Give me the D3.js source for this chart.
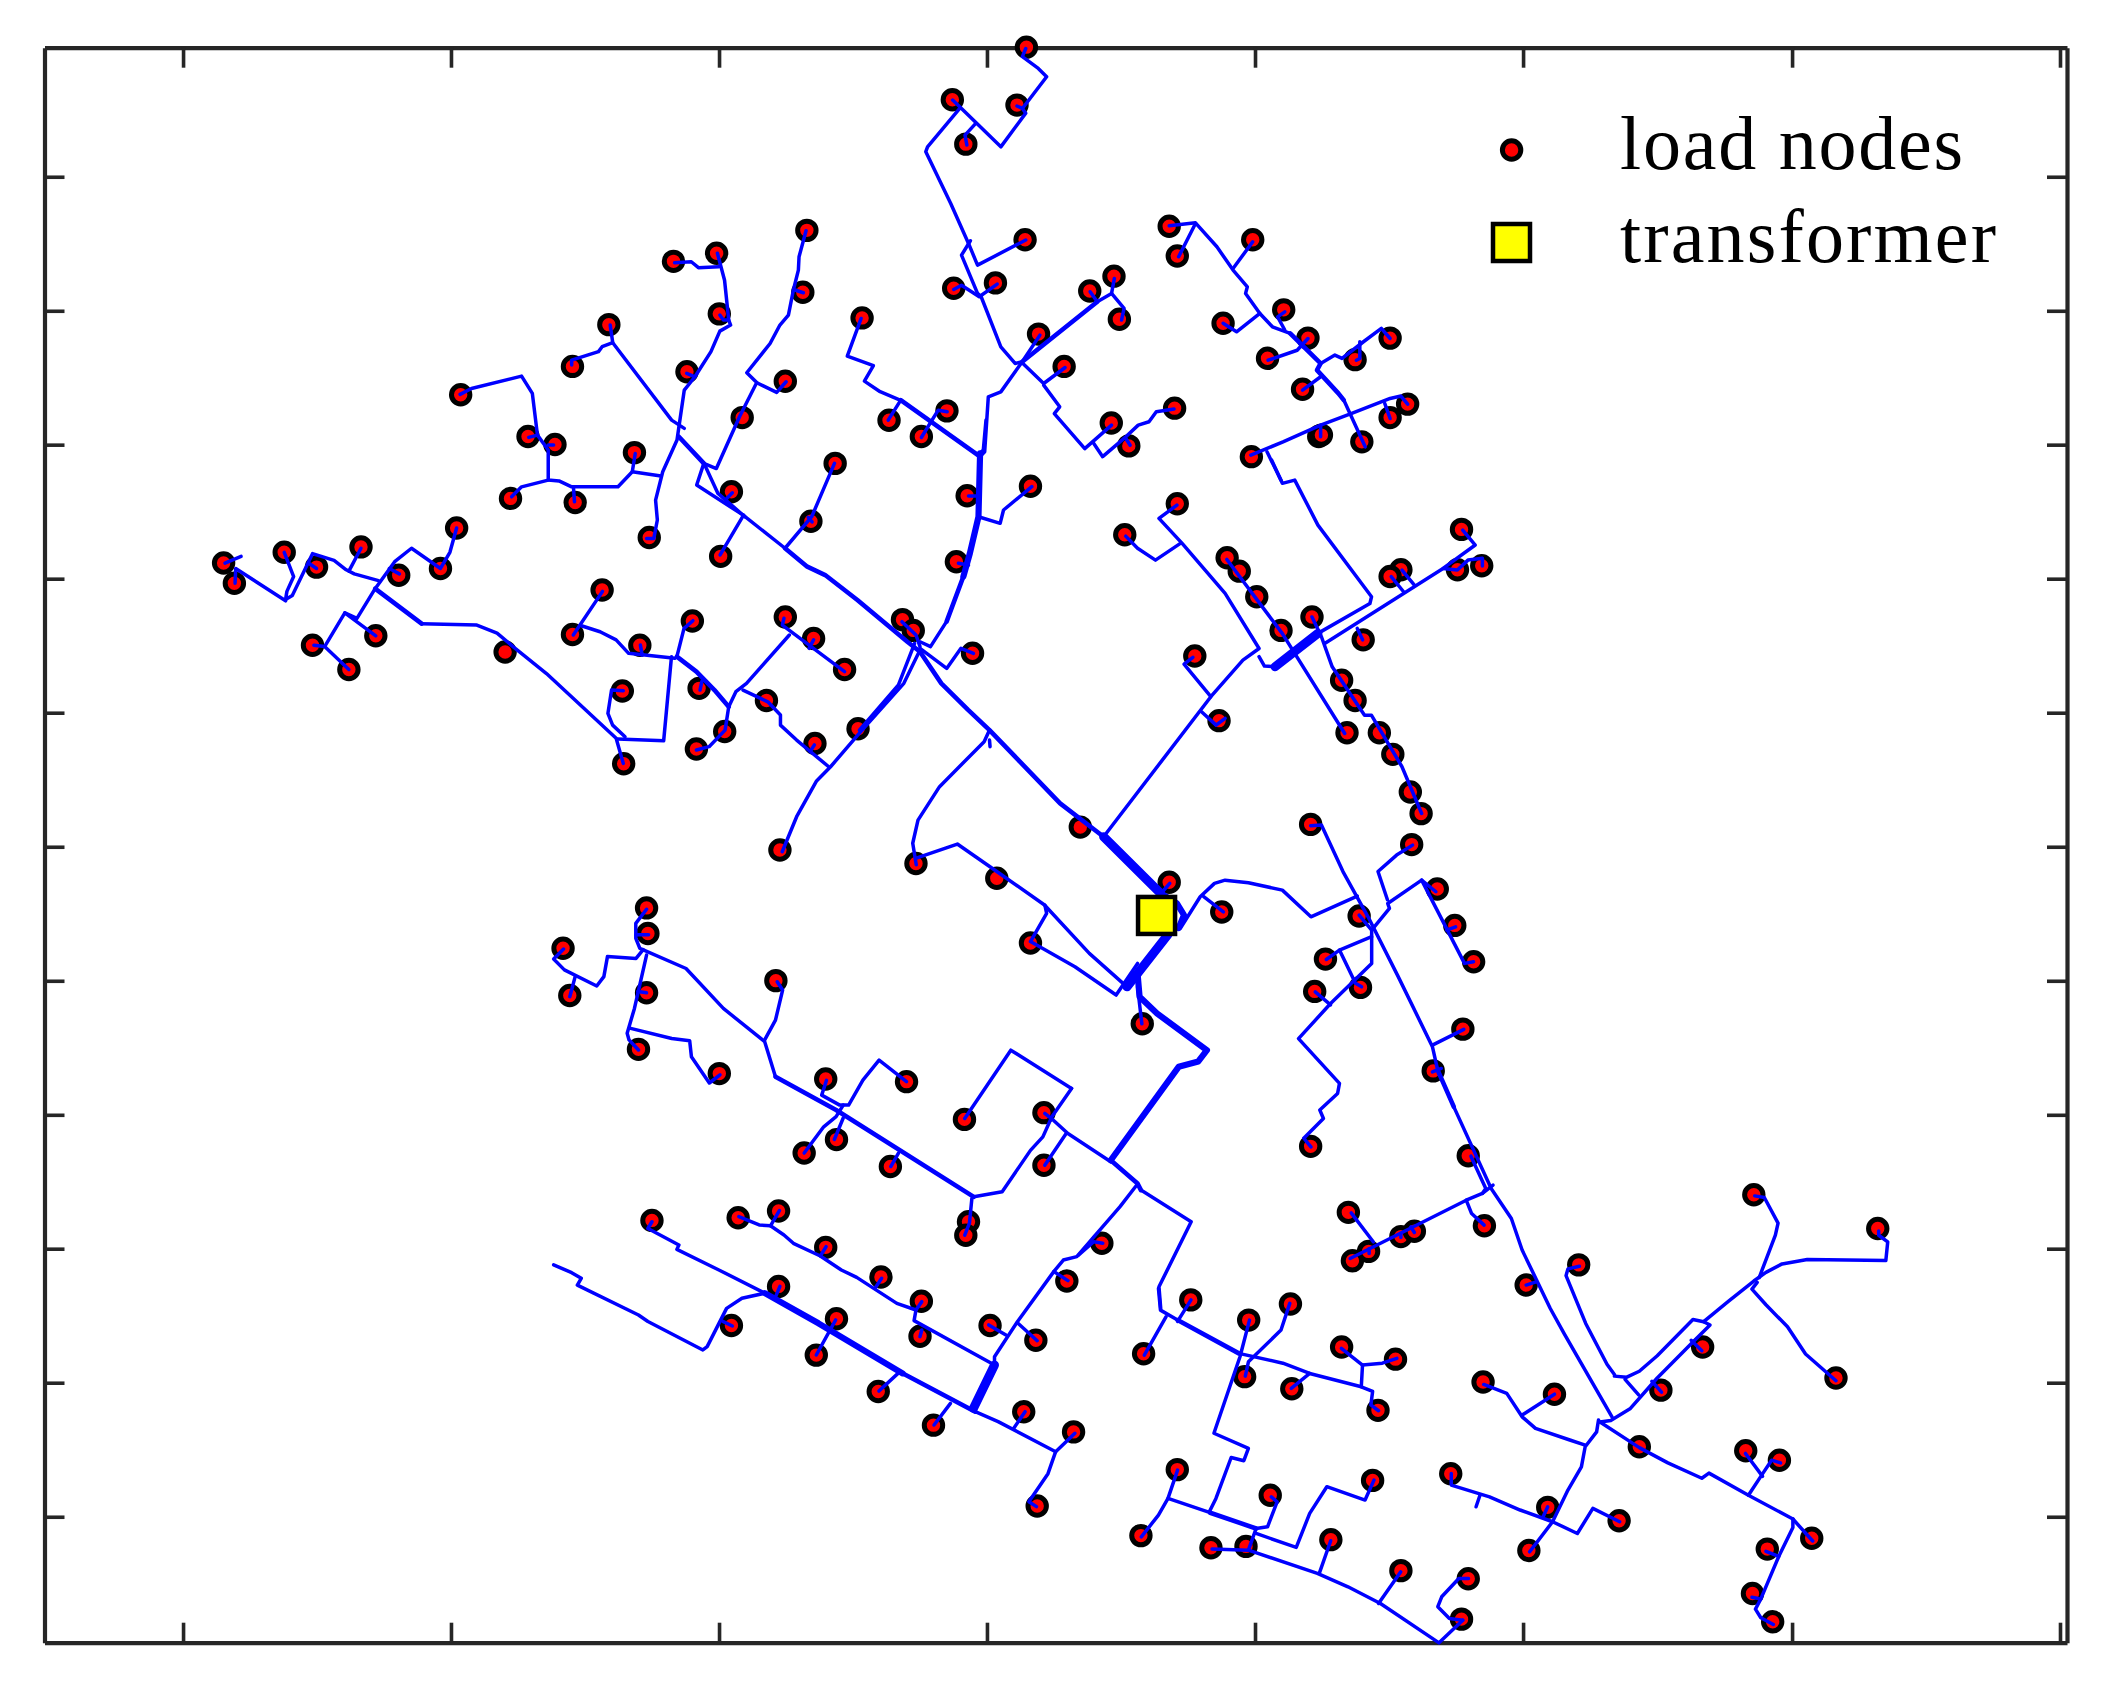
<!DOCTYPE html>
<html>
<head>
<meta charset="utf-8">
<script src="https://cdn.jsdelivr.net/npm/d3@7"></script>
<style>
  html, body { margin: 0; background: #fff; }
  svg { display: block; }
  text { font-family: "Liberation Serif", serif; fill: #000; }
</style>
</head>
<body>
<svg id="chart-svg"></svg>
<script>
const legendLabels = ["load nodes", "transformer"];
const xTicks = [135.9, 334.8, 533.8, 732.7, 931.7, 1130.7, 1330.4, 1529.3];
const yTicks = [131.2, 230.7, 330.1, 429.6, 529.1, 628.6, 728.1, 827.6, 927, 1026.5, 1126];
const transformer = [858.6, 679.6];

const loadNodes = [
  [762,35],[707,74],[755,78],[717,107],[761,178],[739,210],[708,214],[868,168],[874,190],[930,178],
  [809,216],[827,205],[831,237],[771,248],[790,272],[908,240],[953,230],[971,251],[941,266],[1006,267],
  [1032,251],[967,289],[1045,300],[1032,310],[979,324],[981,323],[1011,328],[929,339],[825,314],[838,331],[872,303],
  [640,236],[660,312],[684,324],[703,305],[718,368],[765,361],[710,417],[620,344],[602,387],[543,365],
  [535,413],[583,283],[551,310],[596,217],[599,171],[534,233],[532,188],[500,194],[510,276],[452,241],
  [425,272],[342,293],[392,324],[412,330],[471,336],[379,370],[427,373],[482,399],
  [166,418],[174,433],[211,410],[235,421],[268,406],[296,427],[327,422],[339,392],[232,479],[259,497],
  [279,472],[375,484],[447,438],[425,471],[475,479],[514,461],[462,513],[519,511],[463,567],[517,556],
  [538,543],[569,520],[583,458],[604,474],[627,497],[605,552],[637,541],[670,460],[678,468],[722,485],[579,631],
  [802,614],[680,641],[740,652],[868,655],[907,677],[765,700],[848,760],[835,397],[874,374],[911,414],
  [920,424],[933,443],[951,468],[974,458],[1012,475],[887,487],[905,535],[996,505],[1006,520],[1000,544],
  [1024,544],[1034,560],[1047,588],[1055,604],[1085,393],[1040,423],[1032,428],[1082,423],[1100,420],[973,612],
  [1048,627],[1067,660],[1080,687],[1094,714],[1009,680],[984,712],[976,736],[1010,733],[1086,764],[1064,795],
  [973,851],[1090,858],[1001,900],[1102,910],[1004,936],[1016,929],[1040,918],[1050,914],[1133,954],[1172,939],
  [1302,887],[1394,912],
  [480,674],[481,693],[418,704],[423,739],[480,737],[576,728],[474,779],[534,797],[613,801],[673,803],
  [716,831],[775,826],[621,846],[597,856],[661,866],[775,865],[719,907],[717,917],[484,906],[548,904],
  [578,899],[613,926],[654,948],[684,966],[578,955],[621,979],[543,984],[683,992],[606,1006],[735,984],
  [769,995],[792,951],[818,923],[652,1033],[693,1058],[760,1048],[797,1063],[770,1118],
  [849,1005],[884,965],[927,980],[958,968],[924,1022],[959,1031],[996,1000],[1036,1009],[1023,1047],[874,1091],
  [847,1140],[899,1149],[925,1148],[943,1110],[988,1143],[1019,1099],[1040,1166],[1090,1172],[1085,1202],[1077,1094],
  [1149,1119],[1135,1151],[1202,1129],[1101,1026],[1154,1035],[1217,1074],[1233,1032],[1264,1000],[1363,1023],[1296,1077],
  [1321,1084],[1345,1142],[1312,1150],[1301,1183],[1316,1204]
];

// ordinary service cables
const wiresThin = [
  [[167,418],[179,413]],
  [[174.5,433],[175,422],[212,446]],
  [[211,410],[218,428],[213,439],[212,445],[217,442],[232,411],[248,416],[257,423],[263,426],[281,431]],
  [[235,422],[229,418]],
  [[268,407],[259,424]],
  [[296.5,426],[289,422]],
  [[339,392],[334,410],[327,422],[305.5,407],[293,417],[278.5,437],[265,459],[256,455],[241,480],[233,479]],
  [[256,455],[279,472]],
  [[241,480],[259,497]],
  [[313,463],[354,464],[369,470],[382,481],[405.7,500],[457.4,548],[462.7,566.7]],
  [[462.7,512.8],[454,512.3],[451.3,529.6],[454.8,538.3],[464,547]],
  [[458.7,548.6],[492.7,549.9],[498.5,487.5]],
  [[447.3,439],[425.6,471.4]],
  [[432.2,464.7],[445.5,469],[457.4,475],[466.7,485],[501,488.7]],
  [[475.4,478.8],[476.8,486.3]],
  [[514.4,460.8],[507.8,466.5],[502.5,487.5]],
  [[519.7,512.3],[521,506]],
  [[541,524.6],[538.3,542],[526.4,554.3],[517,556.8]],
  [[541,524.6],[546.3,513.5],[554.2,507.3],[586,471.4]],
  [[582,459],[580.8,464],[627,498.6]],
  [[604,475],[600.6,481.3]],
  [[551.6,512.3],[570,521],[579.4,530.8],[579.4,538.3],[591.4,549.4],[615.2,569.2]],
  [[604.6,553],[601.4,558]],
  [[580.7,632.3],[591.4,606.3],[606,580],[616.6,569.2],[639,543.2],[671,507.3],[683,482.6]],
  [[638,542],[667,508.5],[679,477.6]],
  [[669.6,461.5],[680,471.4],[683,480]],
  [[683,481.3],[702.8,496.2],[713.4,481.3],[722.7,485]],
  [[702.8,461.3],[690.8,480],[683,476.4]],
  [[726.4,383.6],[742.5,388.5],[745,378.6],[766,361.3]],
  [[719,368.2],[726.4,368.2]],
  [[711.5,418.2],[719,419.5]],
  [[732,311.8],[730,334],[727.6,336.5]],
  [[734.6,542],[730.6,550.6],[697.5,584],[681.5,608.8],[677.6,626],[680.2,642]],
  [[734.6,549.4],[735,554.3]],
  [[680.2,637],[710.7,626.6],[740,647],[775.7,672],[777,678],[765,699],[798,717.7],[828.6,738.7],[844.5,715.2]],
  [[775.6,672],[808.7,707.8],[835.2,731.3]],
  [[844.5,732.6],[847.7,760]],
  [[847,883.5],[884.3,907],[860.4,955.3],[861.7,971.4]],
  [[775.6,826.6],[782,831.6],[792.8,841.5],[824.6,862.5]],
  [[795.5,808],[780.9,829],[774.2,844],[765,854],[744,884.7],[722.9,888.5]],
  [[795.5,808],[750.4,779.6],[716.2,830.3]],
  [[791.5,841.5],[775.6,865]],
  [[480,675],[472,685.5],[472,696.6],[475,704],[509.3,719],[537,748.6],[567.7,773.3],[575.7,799.3]],
  [[481.5,694],[472.2,694]],
  [[480,709],[471,748.6],[465.6,767],[467,772],[474,779.5]],
  [[480,737],[473.5,736]],
  [[477.5,705],[472.2,711.5],[451,710],[448.3,725],[443,732],[419,720],[411,712],[418.4,704.5]],
  [[427,725],[423,739.9]],
  [[468.2,763.4],[498.7,770.9],[512,772.6],[513.3,784.5],[526.6,804],[534.5,798]],
  [[577,728.8],[581,735],[575.7,757.3],[567.7,772]],
  [[613.6,802],[610,813],[623.4,820.4],[630,820.4],[640.6,801.8],[652.6,787],[673,803]],
  [[626,820.4],[620.7,829],[611.5,836.5],[597,856]],
  [[626,830],[619.4,845.9]],
  [[667,856],[661.3,866]],
  [[721.5,889.7],[719.7,908],[716.2,917]],
  [[484,907],[481,912],[504,924.2],[502.5,927.5],[533.7,942.8],[567.8,960]],
  [[724,1048],[741,1055.4],[783.7,1077.7]],
  [[798,1064],[783.7,1077.7],[778,1094],[763.8,1114.8],[769.5,1118.5]],
  [[761,1048],[752.5,1060.4]],
  [[705.6,1041.8],[693.4,1057.9]],
  [[667.3,1019],[652.5,1032.7]],
  [[620.4,979.9],[606,1005.9]],
  [[579,955],[575.8,962.6]],
  [[411,939],[424.4,944.8],[431.5,949],[428.6,954],[474,976.2],[481,981],[521.8,1002.2],[525,999.7],[539.4,971.3],[550.8,963.8],[567.8,960]],
  [[536.6,981],[543.7,984.4]],
  [[548.5,903.2],[563.6,909.4],[572,910],[578.6,898.7]],
  [[572,910],[582,916.8],[589,923],[609,932.4],[624.6,942.8],[636,948.3],[665.8,967.6],[680,972.5],[678.6,980.4],[738.3,1013.4]],
  [[613.3,925.5],[609,932.4]],
  [[654.5,949],[649.6,956.4]],
  [[684.3,966.3],[680,972.5]],
  [[683,992.3],[684.3,987.4]],
  [[738.3,1013.4],[738.3,1007.2],[755.3,981.2],[782.3,944],[789.4,935.4],[799.4,932.9],[831.5,895.8],[844.5,879]],
  [[782.3,944],[792.8,950.7]],
  [[734,983.6],[746.8,991]],
  [[755.3,982],[770,995.3]],
  [[800.8,931.7],[812,921.8],[818.7,923]],
  [[860,956.5],[861.5,972.6],[874.2,980]],
  [[919.7,1004.7],[952.4,1012],[972.3,1019.6],[1010.6,1029.5],[1019,1033],[1017.7,1043],[1023.4,1047.3]],
  [[884.2,965],[874.2,981]],
  [[865.7,977.5],[849.5,1006]],
  [[927.6,980],[920.6,1007],[901.2,1064],[926.8,1075.3],[923.4,1084.4],[914,1082],[902.7,1112.4],[897.8,1122.3]],
  [[957.5,967.6],[951,987.4],[926.8,1011],[924.5,1021.6]],
  [[995.8,1001],[1011.5,1013.4],[1026.2,1012],[1037,1008.4]],
  [[1011.5,1013.4],[1010.6,1029.5]],
  [[972.3,1019.6],[958.6,1030.7]],
  [[874.2,1091.4],[867.1,1112.4],[860,1124.8],[847.3,1140.9]],
  [[867.1,1112.4],[898.4,1123]],
  [[932.5,1134.7],[941,1133.5],[948.1,1114.9],[943.8,1111.2]],
  [[932.5,1138.4],[962.3,1148.8],[972.3,1123.5],[985,1103.7],[1013.4,1113.6],[1020,1098.8]],
  [[932.5,1134.7],[926.8,1150.8],[899.8,1150]],
  [[926.8,1150.8],[978,1168],[1000.7,1178],[1024.8,1190.4],[1068.3,1219.6],[1085.9,1202.8]],
  [[979.4,1168],[987.9,1143.8]],
  [[1023.4,1190.4],[1039.9,1166.9]],
  [[1085.9,1202.8],[1076,1201.5],[1067.4,1192.8],[1070.3,1185.4],[1083,1171.8],[1090.2,1171.8]],
  [[1077.4,1093.8],[1077.4,1102.5],[1105.8,1111.2],[1128.5,1121],[1152.6,1129.7],[1171,1138.4],[1182.5,1119.8],[1202.4,1129.7]],
  [[1098.7,1110],[1095.8,1118.6]],
  [[1149,1118.6],[1145.6,1126]],
  [[1135.6,1152],[1152.6,1129.7],[1164,1106.2],[1174,1089],[1176.8,1074],[1185.3,1063],[1186.7,1054.2]],
  [[1101.5,1027.8],[1118.6,1034.4],[1130,1051.8],[1139.9,1060.4],[1165.4,1069],[1176.8,1072.8]],
  [[1130,1050.5],[1154,1035]],
  [[973,613],[981,612.5],[997,647],[1015.6,680.6],[1038,725],[1063.4,777],[1067.3,794.4]],
  [[1079.3,821.7],[1107,882.3],[1122,904.6],[1130,928],[1150.9,971.4],[1161.2,990],[1196.7,1051.8]],
  [[1302.7,887.8],[1309.8,889],[1320,908],[1318,917],[1306,948.4]],
  [[1394.7,913.8],[1394.7,917],[1401.4,922],[1400,935.8],[1341.7,935],[1323,938.3],[1311,944.6],[1302,951],[1283.3,966],[1264.8,981.2],[1256.8,979.5],[1230.3,1006.5],[1217,1018],[1207.7,1022.4],[1198.5,1021.6]],
  [[1304.5,952],[1300.6,957],[1311,968.6],[1327,985],[1340.4,1005.2],[1363,1025]],
  [[1172.5,940],[1164,942],[1162.6,947],[1177.2,982.5],[1193,1012.8],[1198.5,1020.4]],
  [[1206.4,1024],[1216.5,1035.5]],
  [[1187.8,1055.7],[1195.8,1054.5],[1210.4,1045.6],[1230.3,1023],[1255.5,997.6],[1269.5,983.7],[1264.8,981.2]],
  [[1255.5,995],[1263.4,1002.7]],
  [[1226.3,1025.4],[1233.5,1033.5]],
  [[1187.8,1055.7],[1217,1074.7],[1238.2,1086],[1263.4,1097.4],[1268.7,1093.6],[1298,1110],[1331,1127.7]],
  [[1298,1110],[1307.2,1096],[1315.2,1084],[1321.8,1086]],
  [[1295.8,1079],[1308.5,1096]],
  [[1331,1127.7],[1345.7,1144]],
  [[1331,1127.7],[1331,1134],[1320.5,1155.5],[1307.2,1187],[1303.2,1194.6],[1307.2,1201],[1316.5,1206]],
  [[1311,1151.7],[1320.5,1155.5]],
  [[1300.6,1185.8],[1307.2,1187]],
  [[876.4,689],[891,665.7],[901.6,655.8],[909.5,653.4],[926.8,655.3],[952,660.8],[973.2,680.6],[1007.6,665.2]],
  [[893.6,665.7],[908.2,676.9]],
  [[868.4,655.8],[861.8,663.3]],
  [[1009,679.3],[1018.3,690.5],[1031.5,674.4],[1030.2,670.7],[1055.4,653.4],[1066,662]],
  [[1055.4,653.4],[1087.2,715.2],[1093.9,714]],
  [[1074,690.5],[1080.6,688]],
  [[1048.7,627.4],[1036.8,634.8],[1023,647],[1030,668]],
  [[1018.3,690.5],[1018.3,715.2],[987.8,745],[964,771],[994.4,804.3],[993,811.8],[979.8,824],[982.5,830.3],[967.9,845],[973.2,851.4]],
  [[1018.3,695.4],[994.4,705.3],[984.6,712.3]],
  [[994.4,705.3],[1006.3,730],[1010.8,732.6]],
  [[976.4,736.3],[987.8,746]],
  [[1063.4,775.9],[1086.7,764.2]],
  [[1063.4,795.7],[1070,793.2]],
  [[1092,858.3],[1103,882.3],[1100.5,886],[1088.5,891],[1002.3,934.3]],
  [[1108.4,879.8],[1100.5,886]],
  [[1088.5,891],[1092.5,900.9],[1101.8,909.5]],
  [[1003.1,900.4],[1019.6,922]],
  [[1040,918.7],[1040,915.7]],
  [[1050,915],[1047.4,910.8]],
  [[1016.4,930.6],[1016.4,927]],
  [[1133,954],[1140.3,951.6]],
  [[873.7,375],[860.4,384.8],[877.6,403.4],[909.5,440.5],[934.7,481.4],[922.7,490],[898.9,517.2],[819.3,621.2]],
  [[835.7,398],[844.5,407],[857.8,415.8],[876.3,403.4]],
  [[885.6,488],[879,493],[898.9,517.2]],
  [[892,528.4],[902.8,538.3],[909.5,533.3]],
  [[910.8,415.3],[951.9,470.2],[998.3,544.5]],
  [[934.7,487.5],[938.7,494.5],[946.6,495]],
  [[978.4,470.2],[1017,448],[1018.2,443],[978.4,389.8],[961.2,356.4],[952,358.8],[944,341.5]],
  [[983.7,477.6],[1071.3,422],[1095.2,404.6],[1085.9,393.5]],
  [[1071.3,422],[1081.9,423.2],[1089.8,415.8],[1100.5,414.5],[1100.5,420.2]],
  [[1032.8,428],[1042,439.3]],
  [[1040.8,423.2],[1050,434.3]],
  [[1007.6,466.5],[1011.6,475]],
  [[974,458],[981,472.7],[989,495],[1013,531],[1018.2,531],[1040.8,569.2],[1055.4,603.9]],
  [[761.5,36],[759,42],[770.8,50.8],[777,57],[759,80.5],[755,78.7]],
  [[759,80.5],[761.5,84],[743,109],[713.8,80.5],[707.2,74.3]],
  [[724.4,91.6],[716.4,100.3],[717.8,107.7]],
  [[712.5,80.5],[688.6,109],[687.3,112.6],[705.8,151],[719,180.7],[725.7,196.8],[761.5,178.2]],
  [[720.4,178.7],[713.8,189.4],[725.7,217.8],[728.4,220.3],[743,257.5],[753.6,269.8],[758.9,268.6]],
  [[708,214.9],[713.8,211.7],[727,220.3],[740.3,210.9]],
  [[814.6,224],[825.2,217.8],[827.3,206.7]],
  [[809.3,216.6],[814.6,224]],
  [[825.2,217.8],[834.5,229],[832.6,237.6]],
  [[772,248.8],[758.9,268.6]],
  [[758.9,268.6],[743,290.9],[733.7,294.6],[731,335.4],[727.6,339]],
  [[668.7,297],[659.4,311.9]],
  [[639.3,236.4],[629,264.3],[648.4,271.5],[641.7,282.9],[653.4,290.8],[668.2,297]],
  [[703.2,305.7],[696.5,304.5],[684,324.8]],
  [[759.4,269.8],[774.8,284.7],[790.7,272.8]],
  [[774.8,285.9],[786.7,302],[782.7,307],[805.3,333],[825.2,315.6]],
  [[812,329.2],[818.6,339],[835.8,324.3],[845,315.6],[853,313.1],[858.4,305.7],[871.6,303.7]],
  [[839,330.5],[835.8,325.5]],
  [[868,167.6],[887.5,165.4],[903.4,183.2],[915.4,200.5],[926,212.9],[924.7,217.8],[935.3,232.7],[944.6,242.6],[957.8,247.5]],
  [[887.5,165.9],[875,190.6]],
  [[930,179.5],[915.4,199.3]],
  [[935.3,232.7],[918,246.3],[908,240]],
  [[953.8,231.5],[948.5,235.2],[953.8,245]],
  [[971,251.3],[963,260],[941.4,267.4]],
  [[980.4,269.8],[991,263.6],[996.3,266.1],[1012.2,253.7],[1025.5,243.8],[1032,251.3]],
  [[1009.5,253.7],[1009.5,266.1],[1006.9,267.4]],
  [[980.4,279.7],[967,289.6]],
  [[997.6,297],[1013.5,331.7]],
  [[928.6,337.9],[952.5,328],[980.4,315.6],[1003,307],[1032,295.8],[1040,294],[1045,300]],
  [[980.4,315.6],[980.4,324.3]],
  [[1028,299.5],[1032,310.7]],
  [[940.6,335.4],[951,356.5]],
  [[500.8,195],[513.2,194.3],[518.5,198.7],[533.6,198]],
  [[532.6,188],[537.9,208],[541,237.6],[542.4,241.3],[534.4,245.8],[527.8,261],[515.9,279.7],[509.8,277.2]],
  [[534.4,233.9],[537,237.6],[541,237.6]],
  [[515.9,279.7],[508,289.6],[502.6,326.7],[492,350.2],[486.7,371.3],[488,386],[485.4,399.7],[480,399.7]],
  [[453,241.3],[454.9,254.4],[498.6,311.9],[508,318]],
  [[454.9,254.4],[447,257.4],[444.3,261],[424.4,267.3],[424.4,271]],
  [[341.6,292.8],[350,288.4],[387.2,279.2],[395.2,292],[399,323],[407,334],[407,356.4],[415,357],[424.4,361.4],[458.8,361.4],[469.4,350.2],[490.7,353.4]],
  [[392.5,324.7],[399,323]],
  [[411,330.4],[407,330.4]],
  [[379.8,368.8],[387.2,361.4],[407,356.4]],
  [[426.5,372.5],[425.7,361.4]],
  [[471.6,336.6],[469.4,350.2]],
  [[522.5,344],[531.8,347.8],[549,309.4],[561.8,284],[554.4,276.7],[571.7,255],[579,241.3],[585.3,233.9],[589,215.3],[592.7,200.5],[593.2,190.6],[598.4,171.3]],
  [[590.2,215.3],[596.4,217.3]],
  [[561.8,284.1],[576.6,291.3],[583.6,283.4]],
  [[522.5,344],[517.2,360],[551.7,382.4],[582.8,407]],
  [[523.8,346.5],[533,366.3],[553,383.6]],
  [[543.7,365.8],[539.5,370]],
  [[552,382.4],[534.6,412]],
  [[619.5,344],[602.6,383.6],[582.8,407]],
  [[602.9,387.4],[600,384]]
];

// feeder sections, a bit heavier
const wiresMid = [
  [[278.5,437],[313,463]],
  [[502.5,487.5],[517,498.6],[530.4,512.3],[541,524.6]],
  [[582.8,407],[599.3,420.7],[612.6,426.9],[636.5,445.4],[673.6,476.4],[683,483.8],[698.8,507.3],[718.7,527],[734.6,542],[787,596.4],[819.3,621.2]],
  [[824.6,861.3],[844.5,878.6],[847,883.5]],
  [[575.7,799.3],[620.7,824],[722.9,888.5]],
  [[670,1019.5],[724,1048]],
  [[874.2,980],[919.7,1004.7]],
  [[898.4,1123],[932.5,1134.7]],
  [[1067.3,794.4],[1079.3,821.7]],
  [[957.8,247.5],[980.4,269.8],[977.7,274.8],[993.6,292],[997.6,297]],
  [[758.9,268.6],[814.6,224]],
  [[727.6,339],[668.7,297]],
  [[504,324.2],[522.5,344]],
  [[702.8,461.3],[715.2,428]]
];

// near the transformer
const wiresThick = [
  [[567.8,960],[607.6,982.4],[670,1019.5]],
  [[844.5,722.7],[846,740],[859,752.4],[896,779.6],[889.6,788],[875,792],[824.6,861.3]],
  [[861.8,663.3],[873.7,670.7],[879,679.3],[875,689]],
  [[715.2,428],[720,410.8],[726.4,383.6],[727.6,336.5]]
];

const wiresHeavy = [
  [[819.3,621.2],[861.7,663.3]],
  [[867,694],[844.5,722.7],[836.6,732.6]],
  [[946.6,495],[978.4,470.2]],
  [[738.3,1013.4],[722.7,1045.5]]
];

const frame = { left: 44.5, right: 2067, top: 47.7, bottom: 1642.7 };

const svg = d3.select("#chart-svg").attr("width", 2112).attr("height", 1695);

const x = d3.scaleLinear().domain([33.04, 1534.5]).range([frame.left, frame.right]);
const y = d3.scaleLinear().domain([35.4, 1219.5]).range([frame.top, frame.bottom]);

function styleAxis(g) {
  g.selectAll(".domain").attr("stroke", "#262626").attr("stroke-width", 4.2);
  g.selectAll(".tick line").attr("stroke", "#262626").attr("stroke-width", 3.6);
}

svg.append("g").attr("transform", "translate(0," + frame.bottom + ")")
   .call(d3.axisBottom(x).tickValues(xTicks).tickFormat("").tickSizeInner(-20).tickSizeOuter(0)).call(styleAxis);
svg.append("g").attr("transform", "translate(0," + frame.top + ")")
   .call(d3.axisTop(x).tickValues(xTicks).tickFormat("").tickSizeInner(-20).tickSizeOuter(0)).call(styleAxis);
svg.append("g").attr("transform", "translate(" + frame.left + ",0)")
   .call(d3.axisLeft(y).tickValues(yTicks).tickFormat("").tickSizeInner(-20).tickSizeOuter(0)).call(styleAxis);
svg.append("g").attr("transform", "translate(" + frame.right + ",0)")
   .call(d3.axisRight(y).tickValues(yTicks).tickFormat("").tickSizeInner(-20).tickSizeOuter(0)).call(styleAxis);

svg.selectAll("circle.node")
   .data(loadNodes)
   .enter()
   .append("circle")
   .attr("class", "node")
   .attr("cx", d => x(d[0]))
   .attr("cy", d => y(d[1]))
   .attr("r", 9.2)
   .attr("fill", "#ff0000")
   .attr("stroke", "#000")
   .attr("stroke-width", 5);

const line = d3.line().x(d => x(d[0])).y(d => y(d[1]));

function drawWires(wires, w) {
  svg.append("g")
     .selectAll("path")
     .data(wires)
     .enter()
     .append("path")
     .attr("d", line)
     .attr("fill", "none")
     .attr("stroke", "#0000ff")
     .attr("stroke-width", w)
     .attr("stroke-linejoin", "round")
     .attr("stroke-linecap", "round");
}
drawWires(wiresThin, 3.5);
drawWires(wiresMid, 4.6);
drawWires(wiresThick, 6.2);
drawWires(wiresHeavy, 9);

svg.append("rect")
   .attr("x", x(transformer[0]) - 18.5)
   .attr("y", y(transformer[1]) - 18.5)
   .attr("width", 37)
   .attr("height", 37)
   .attr("fill", "#ffff00")
   .attr("stroke", "#000")
   .attr("stroke-width", 4.5);

// legend
svg.append("circle")
   .attr("cx", 1511.6).attr("cy", 150).attr("r", 9.2)
   .attr("fill", "#ff0000").attr("stroke", "#000").attr("stroke-width", 5);
svg.append("rect")
   .attr("x", 1493).attr("y", 224).attr("width", 37).attr("height", 37)
   .attr("fill", "#ffff00").attr("stroke", "#000").attr("stroke-width", 4.5);
svg.append("text").attr("x", 1620).attr("y", 169)
   .attr("font-size", 76).attr("textLength", 343).attr("lengthAdjust", "spacing").text(legendLabels[0]);
svg.append("text").attr("x", 1620).attr("y", 261.5)
   .attr("font-size", 76).attr("textLength", 376).attr("lengthAdjust", "spacing").text(legendLabels[1]);
</script>
</body>
</html>
